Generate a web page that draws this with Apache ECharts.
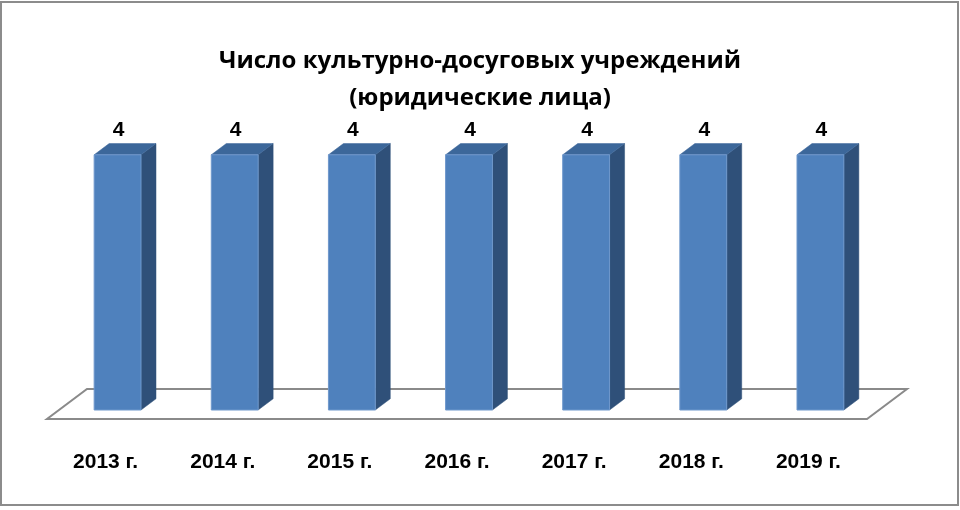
<!DOCTYPE html>
<html><head><meta charset="utf-8">
<script src="https://cdn.jsdelivr.net/npm/echarts@6/dist/echarts.min.js"></script>
<style>html,body{margin:0;padding:0;background:#fff}#c{width:960px;height:510px}</style>
</head><body><div id="c"></div>
<script>
const categories = ['2013 г.', '2014 г.', '2015 г.', '2016 г.', '2017 г.', '2018 г.', '2019 г.'];
const values = [4, 4, 4, 4, 4, 4, 4];
const titleLines = ['Число культурно-досуговых учреждений', '(юридические лица)'];

const FONT = '"Liberation Sans", Arial, sans-serif';
const TITLE_FONT = '"Open Sans", "Liberation Sans", sans-serif';
const DEPTH = [40, -30];     // floor depth vector (px)
const BAR_FRONT = 0.3;       // bar front face position within floor depth
const BAR_DEPTH = 0.375;     // bar depth as fraction of floor depth
const BAR_W = 0.4;           // fraction of band width

const chart = echarts.init(document.getElementById('c'), null, {renderer: 'canvas'});

function renderFloor(params, api) {
  const cs = params.coordSys;
  const x0 = cs.x, x1 = cs.x + cs.width, y = cs.y + cs.height;
  return {
    type: 'polygon',
    shape: {points: [[x0, y], [x1, y], [x1 + DEPTH[0], y + DEPTH[1]], [x0 + DEPTH[0], y + DEPTH[1]]]},
    style: {fill: '#fff', stroke: '#8a8a8a', lineWidth: 2}
  };
}

function renderBar(params, api) {
  const idx = api.value(0), val = api.value(1);
  const top = api.coord([idx, val]);
  const base = api.coord([idx, 0]);
  const band = api.size([1, 0])[0];
  const w = band * BAR_W;
  const fx = DEPTH[0] * BAR_FRONT, fy = DEPTH[1] * BAR_FRONT;
  const dx = DEPTH[0] * BAR_DEPTH, dy = DEPTH[1] * BAR_DEPTH;
  const l = top[0] - w / 2 + fx, r = top[0] + w / 2 + fx;
  const t = top[1] + fy, b = base[1] + fy;
  return {
    type: 'group',
    children: [
      {type: 'polygon', shape: {points: [[r, t], [r + dx, t + dy], [r + dx, b + dy], [r, b]]},
        style: {fill: '#2f5079', stroke: '#2f5079', lineWidth: 0.5}},
      {type: 'polygon', shape: {points: [[l, t], [l + dx, t + dy], [r + dx, t + dy], [r, t]]},
        style: {fill: '#3c679a', stroke: '#3c679a', lineWidth: 0.5}},
      {type: 'rect', shape: {x: l, y: t, width: w, height: b - t},
        style: {fill: '#4f81bd', stroke: '#6f98cc', lineWidth: 1}},
      {type: 'text', x: (l + r) / 2 + 1, y: t + dy - 3,
        style: {text: String(val), fill: '#000', font: 'bold 21px ' + FONT, align: 'center', verticalAlign: 'bottom'}}
    ]
  };
}

chart.setOption({
  animation: false,
  title: {
    text: titleLines.join('\n'),
    left: 'center', top: 38,
    textStyle: {fontFamily: TITLE_FONT, fontWeight: 'bold', fontSize: 24, color: '#000', lineHeight: 37}
  },
  grid: {left: 47, right: 93, top: 100, bottom: 91},
  xAxis: {
    type: 'category', data: categories,
    axisLine: {show: false}, axisTick: {show: false},
    axisLabel: {margin: 33, color: '#000', fontFamily: FONT, fontWeight: 'bold', fontSize: 21}
  },
  yAxis: {type: 'value', min: 0, max: 5, show: false, splitLine: {show: false}},
  graphic: [{
    type: 'rect', shape: {x: 1, y: 2, width: 957, height: 503},
    style: {fill: 'none', stroke: '#8c8c8c', lineWidth: 2}, z: 100
  }],
  series: [
    {type: 'custom', data: [[0, 0]], renderItem: renderFloor, z: 1, silent: true},
    {type: 'custom', data: values.map((v, i) => [i, v]), renderItem: renderBar, z: 2,
      encode: {x: 0, y: 1}}
  ]
});
</script></body></html>
